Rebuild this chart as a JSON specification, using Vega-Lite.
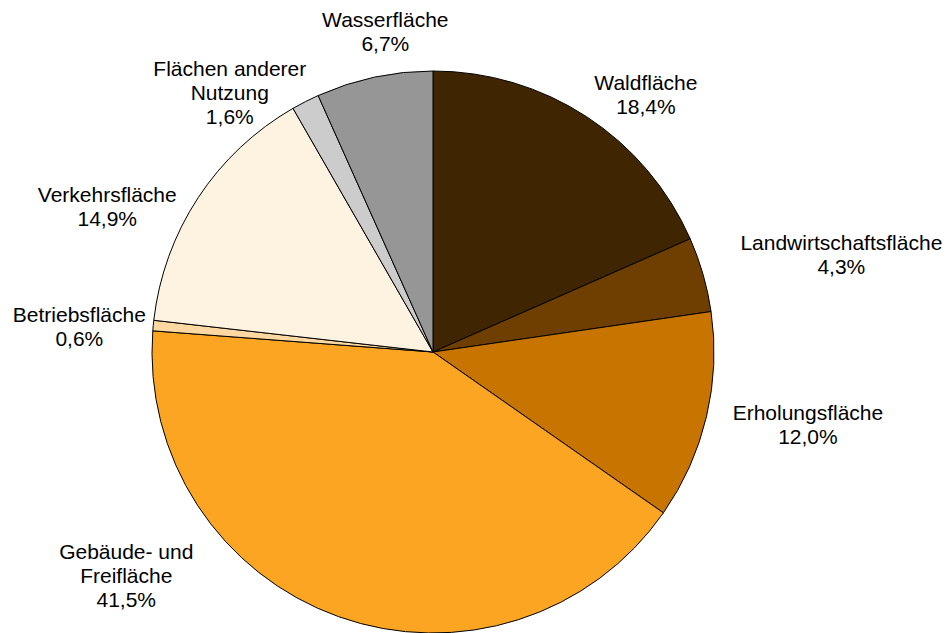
{
  "$schema": "https://vega.github.io/schema/vega-lite/v6.json",
  "width": 866,
  "height": 562,
  "autosize": "none",
  "padding": {"left": 0, "top": 71, "right": 83, "bottom": 0},
  "background": "white",
  "config": {"view": {"stroke": null}},
  "data": {
    "values": [
      {"Kategorie": "Waldfläche", "Anteil": 18.4},
      {"Kategorie": "Landwirtschaftsfläche", "Anteil": 4.3},
      {"Kategorie": "Erholungsfläche", "Anteil": 12.0},
      {"Kategorie": "Gebäude- und\nFreifläche", "Anteil": 41.5},
      {"Kategorie": "Betriebsfläche", "Anteil": 0.6},
      {"Kategorie": "Verkehrsfläche", "Anteil": 14.9},
      {"Kategorie": "Flächen anderer\nNutzung", "Anteil": 1.6},
      {"Kategorie": "Wasserfläche", "Anteil": 6.7}
    ]
  },
  "transform": [
    {"window": [{"op": "row_number", "as": "Nr"}]},
    {"stack": "Anteil", "groupby": [], "sort": [{"field": "Nr", "order": "ascending"}], "as": ["Start", "Ende"]},
    {"calculate": "(datum.Start + datum.Ende) / 2", "as": "Mitte"},
    {"calculate": "datum.Kategorie + '\\n' + replace(format(datum.Anteil, '.1f'), '.', ',') + '%'", "as": "Beschriftung"}
  ],
  "layer": [
    {
      "mark": {"type": "arc", "stroke": "#000000", "strokeWidth": 1},
      "encoding": {
        "theta": {"field": "Start", "type": "quantitative", "stack": null, "scale": {"domain": [0, 100]}},
        "theta2": {"field": "Ende"},
        "color": {
          "field": "Kategorie",
          "type": "nominal",
          "legend": null,
          "scale": {
            "domain": ["Waldfläche", "Landwirtschaftsfläche", "Erholungsfläche", "Gebäude- und\nFreifläche", "Betriebsfläche", "Verkehrsfläche", "Flächen anderer\nNutzung", "Wasserfläche"],
            "range": ["#3f2600", "#6e3f00", "#c77400", "#fca523", "#fdd8a0", "#fef2e1", "#cccccc", "#969696"]
          }
        }
      }
    },
    {
      "transform": [{"filter": "datum.Nr == 1"}],
      "mark": {"type": "text", "radius": 300, "dx": 49, "dy": -17, "font": "Liberation Sans", "fontSize": 21, "lineHeight": 24, "align": "center", "baseline": "middle", "lineBreak": "\n", "color": "#000000"},
      "encoding": {"theta": {"field": "Mitte", "type": "quantitative", "scale": {"domain": [0, 100]}}, "text": {"field": "Beschriftung"}}
    },
    {
      "transform": [{"filter": "datum.Nr == 2"}],
      "mark": {"type": "text", "radius": 300, "dx": 120, "dy": -25, "font": "Liberation Sans", "fontSize": 21, "lineHeight": 24, "align": "center", "baseline": "middle", "lineBreak": "\n", "color": "#000000"},
      "encoding": {"theta": {"field": "Mitte", "type": "quantitative", "scale": {"domain": [0, 100]}}, "text": {"field": "Beschriftung"}}
    },
    {
      "transform": [{"filter": "datum.Nr == 3"}],
      "mark": {"type": "text", "radius": 300, "dx": 83, "dy": -7, "font": "Liberation Sans", "fontSize": 21, "lineHeight": 24, "align": "center", "baseline": "middle", "lineBreak": "\n", "color": "#000000"},
      "encoding": {"theta": {"field": "Mitte", "type": "quantitative", "scale": {"domain": [0, 100]}}, "text": {"field": "Beschriftung"}}
    },
    {
      "transform": [{"filter": "datum.Nr == 4"}],
      "mark": {"type": "text", "radius": 300, "dx": -206, "dy": -82, "font": "Liberation Sans", "fontSize": 21, "lineHeight": 24, "align": "center", "baseline": "middle", "lineBreak": "\n", "color": "#000000"},
      "encoding": {"theta": {"field": "Mitte", "type": "quantitative", "scale": {"domain": [0, 100]}}, "text": {"field": "Beschriftung"}}
    },
    {
      "transform": [{"filter": "datum.Nr == 5"}],
      "mark": {"type": "text", "radius": 300, "dx": -55, "dy": -8, "font": "Liberation Sans", "fontSize": 21, "lineHeight": 24, "align": "center", "baseline": "middle", "lineBreak": "\n", "color": "#000000"},
      "encoding": {"theta": {"field": "Mitte", "type": "quantitative", "scale": {"domain": [0, 100]}}, "text": {"field": "Beschriftung"}}
    },
    {
      "transform": [{"filter": "datum.Nr == 6"}],
      "mark": {"type": "text", "radius": 300, "dx": -75, "dy": 9, "font": "Liberation Sans", "fontSize": 21, "lineHeight": 24, "align": "center", "baseline": "middle", "lineBreak": "\n", "color": "#000000"},
      "encoding": {"theta": {"field": "Mitte", "type": "quantitative", "scale": {"domain": [0, 100]}}, "text": {"field": "Beschriftung"}}
    },
    {
      "transform": [{"filter": "datum.Nr == 7"}],
      "mark": {"type": "text", "radius": 300, "dx": -67, "dy": -15, "font": "Liberation Sans", "fontSize": 21, "lineHeight": 24, "align": "center", "baseline": "middle", "lineBreak": "\n", "color": "#000000"},
      "encoding": {"theta": {"field": "Mitte", "type": "quantitative", "scale": {"domain": [0, 100]}}, "text": {"field": "Beschriftung"}}
    },
    {
      "transform": [{"filter": "datum.Nr == 8"}],
      "mark": {"type": "text", "radius": 300, "dx": 15, "dy": -38, "font": "Liberation Sans", "fontSize": 21, "lineHeight": 24, "align": "center", "baseline": "middle", "lineBreak": "\n", "color": "#000000"},
      "encoding": {"theta": {"field": "Mitte", "type": "quantitative", "scale": {"domain": [0, 100]}}, "text": {"field": "Beschriftung"}}
    }
  ]
}
